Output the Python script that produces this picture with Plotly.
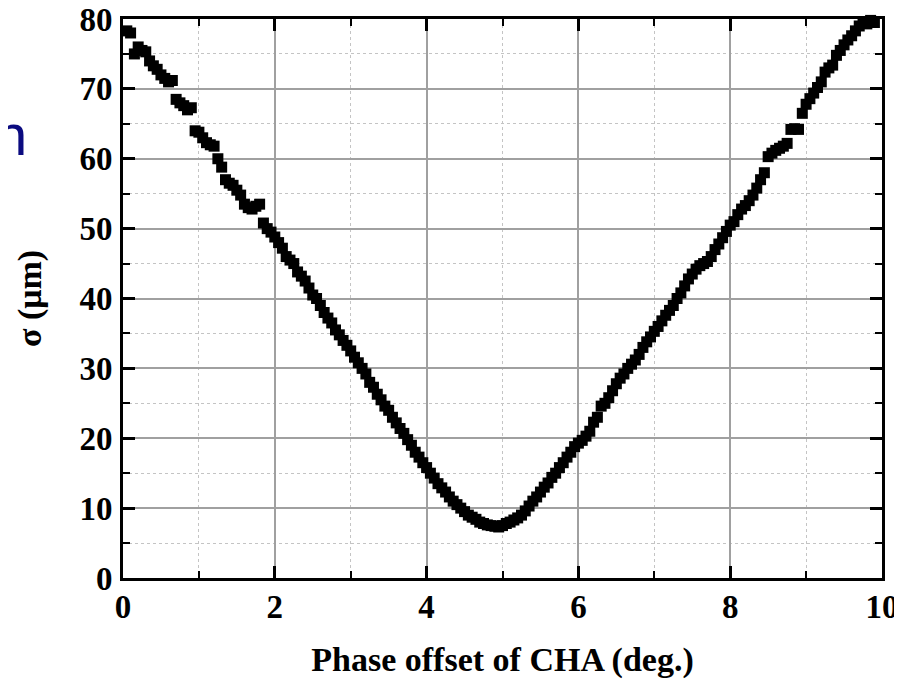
import plotly.graph_objects as go

phase_deg = [
    0.05, 0.10, 0.15, 0.20, 0.25, 0.30, 0.35, 0.40, 0.45, 0.50,
    0.55, 0.60, 0.65, 0.70, 0.75, 0.80, 0.85, 0.90, 0.95, 1.00,
    1.05, 1.10, 1.15, 1.20, 1.25, 1.30, 1.35, 1.40, 1.45, 1.50,
    1.55, 1.60, 1.65, 1.70, 1.75, 1.80, 1.85, 1.90, 1.95, 2.00,
    2.05, 2.10, 2.15, 2.20, 2.25, 2.30, 2.35, 2.40, 2.45, 2.50,
    2.55, 2.60, 2.65, 2.70, 2.75, 2.80, 2.85, 2.90, 2.95, 3.00,
    3.05, 3.10, 3.15, 3.20, 3.25, 3.30, 3.35, 3.40, 3.45, 3.50,
    3.55, 3.60, 3.65, 3.70, 3.75, 3.80, 3.85, 3.90, 3.95, 4.00,
    4.05, 4.10, 4.15, 4.20, 4.25, 4.30, 4.35, 4.40, 4.45, 4.50,
    4.55, 4.60, 4.65, 4.70, 4.75, 4.80, 4.85, 4.90, 4.95, 5.00,
    5.05, 5.10, 5.15, 5.20, 5.25, 5.30, 5.35, 5.40, 5.45, 5.50,
    5.55, 5.60, 5.65, 5.70, 5.75, 5.80, 5.85, 5.90, 5.95, 6.00,
    6.05, 6.10, 6.15, 6.20, 6.25, 6.30, 6.35, 6.40, 6.45, 6.50,
    6.55, 6.60, 6.65, 6.70, 6.75, 6.80, 6.85, 6.90, 6.95, 7.00,
    7.05, 7.10, 7.15, 7.20, 7.25, 7.30, 7.35, 7.40, 7.45, 7.50,
    7.55, 7.60, 7.65, 7.70, 7.75, 7.80, 7.85, 7.90, 7.95, 8.00,
    8.05, 8.10, 8.15, 8.20, 8.25, 8.30, 8.35, 8.40, 8.45, 8.50,
    8.55, 8.60, 8.65, 8.70, 8.75, 8.80, 8.85, 8.90, 8.95, 9.00,
    9.05, 9.10, 9.15, 9.20, 9.25, 9.30, 9.35, 9.40, 9.45, 9.50,
    9.55, 9.60, 9.65, 9.70, 9.75, 9.80, 9.85, 9.90,
]

sigma_um = [
    78.3, 78.0, 75.0, 76.0, 75.5, 75.3, 74.0, 73.3, 72.8, 72.0,
    71.5, 71.0, 71.2, 68.5, 68.0, 67.6, 67.0, 67.3, 64.0, 63.8,
    63.0, 62.3, 62.0, 61.8, 60.0, 58.8, 57.0, 56.5, 56.2, 55.5,
    54.8, 53.5, 53.0, 52.8, 53.2, 53.5, 50.8, 50.0, 49.5, 48.8,
    48.0, 47.2, 46.0, 45.5, 45.0, 43.8, 43.2, 42.5, 41.5, 40.5,
    40.0, 39.0, 38.0, 37.2, 36.5, 35.5, 34.8, 34.0, 33.3, 32.5,
    31.6, 30.8, 30.0, 29.2, 28.0, 27.3, 26.3, 25.5, 24.6, 24.0,
    23.0, 22.2, 21.4, 20.7, 19.8, 19.0, 18.0, 17.3, 16.5, 15.8,
    15.0, 14.3, 13.5, 12.9, 12.3, 11.6, 11.0, 10.5, 10.0, 9.5,
    9.0, 8.7, 8.4, 8.0, 7.8, 7.6, 7.5, 7.4, 7.3, 7.5,
    7.8, 8.0, 8.3, 8.6, 9.0, 9.6, 10.3, 11.0, 11.6, 12.3,
    13.0, 13.6, 14.4, 15.0, 15.8, 16.5, 17.3, 18.0, 18.8, 19.3,
    19.7, 20.3, 21.0, 22.3, 23.0, 24.6, 25.0, 25.8, 26.8, 27.8,
    28.6, 29.2, 30.0, 30.6, 31.2, 32.0, 33.0, 33.8, 34.5, 35.3,
    36.0, 36.8, 37.6, 38.3, 39.0, 40.0, 40.8, 41.8, 42.8, 43.5,
    44.2, 44.7, 45.0, 45.3, 46.0, 47.0, 47.8, 48.7, 49.6, 50.5,
    51.0, 52.0, 52.8, 53.3, 54.0, 54.8, 55.8, 57.0, 58.0, 60.3,
    60.8, 61.2, 61.5, 61.8, 62.2, 64.2, 64.3, 64.2, 66.5, 67.8,
    68.6, 69.4, 70.2, 71.0, 72.4, 73.0, 73.4, 74.8, 75.5, 76.3,
    77.0, 77.6, 78.3, 79.0, 79.5, 79.3, 79.8, 79.5,
]

x_tickvals = [0, 2, 4, 6, 8, 10]
y_tickvals = [0, 10, 20, 30, 40, 50, 60, 70, 80]

x_title = "Phase offset of CHA (deg.)"
y_title = "σ (μm)"
stray_text = "n"

SERIF = "Liberation Serif, Times New Roman, serif"

fig = go.Figure()
fig.add_trace(go.Scatter(
    x=phase_deg, y=sigma_um, mode="markers",
    marker=dict(symbol="square", size=11, color="black", line=dict(width=0)),
    cliponaxis=False, showlegend=False,
))

axis_common = dict(
    showline=True, linecolor="black", linewidth=3, mirror="ticks",
    ticks="inside", ticklen=12, tickwidth=3, tickcolor="black",
    showgrid=True, gridcolor="#a0a0a0", gridwidth=1.5,
    zeroline=False, automargin=False, ticklabeloverflow="allow",
    tickfont=dict(family=SERIF, size=33, color="black", weight="bold"),
)

fig.update_xaxes(
    range=[0, 10], tickvals=x_tickvals, ticktext=[str(v) for v in x_tickvals],
    title=dict(text=x_title, font=dict(family=SERIF, size=34, color="black", weight="bold"), standoff=36),
    minor=dict(ticks="inside", ticklen=7, tickwidth=2, tickcolor="black", dtick=1,
               showgrid=True, gridcolor="#c4c4c4", gridwidth=1.2, griddash="dot"),
    ticklabelstandoff=-3,
    **axis_common,
)
fig.update_yaxes(
    range=[0, 80], tickvals=y_tickvals, ticktext=[str(v) for v in y_tickvals],
    title=dict(text=y_title, font=dict(family=SERIF, size=34, color="black", weight="bold"), standoff=28),
    minor=dict(ticks="inside", ticklen=7, tickwidth=2, tickcolor="black", dtick=5,
               showgrid=True, gridcolor="#c4c4c4", gridwidth=1.2, griddash="dot"),
    ticklabelstandoff=1,
    **axis_common,
)

fig.add_annotation(
    text=stray_text, xref="paper", yref="paper",
    x=-0.124, y=0.7934, xanchor="right", yanchor="middle", showarrow=False,
    font=dict(family="Liberation Sans, Arial, sans-serif", size=58, color="#0b0b80"),
)

# The page body adds an 8 px margin, so the figure is sized to fit the window.
fig.update_layout(
    width=894, height=671,
    margin=dict(l=115, r=20, t=11, b=101),
    paper_bgcolor="white", plot_bgcolor="white",
)

fig.write_html("out.html")
